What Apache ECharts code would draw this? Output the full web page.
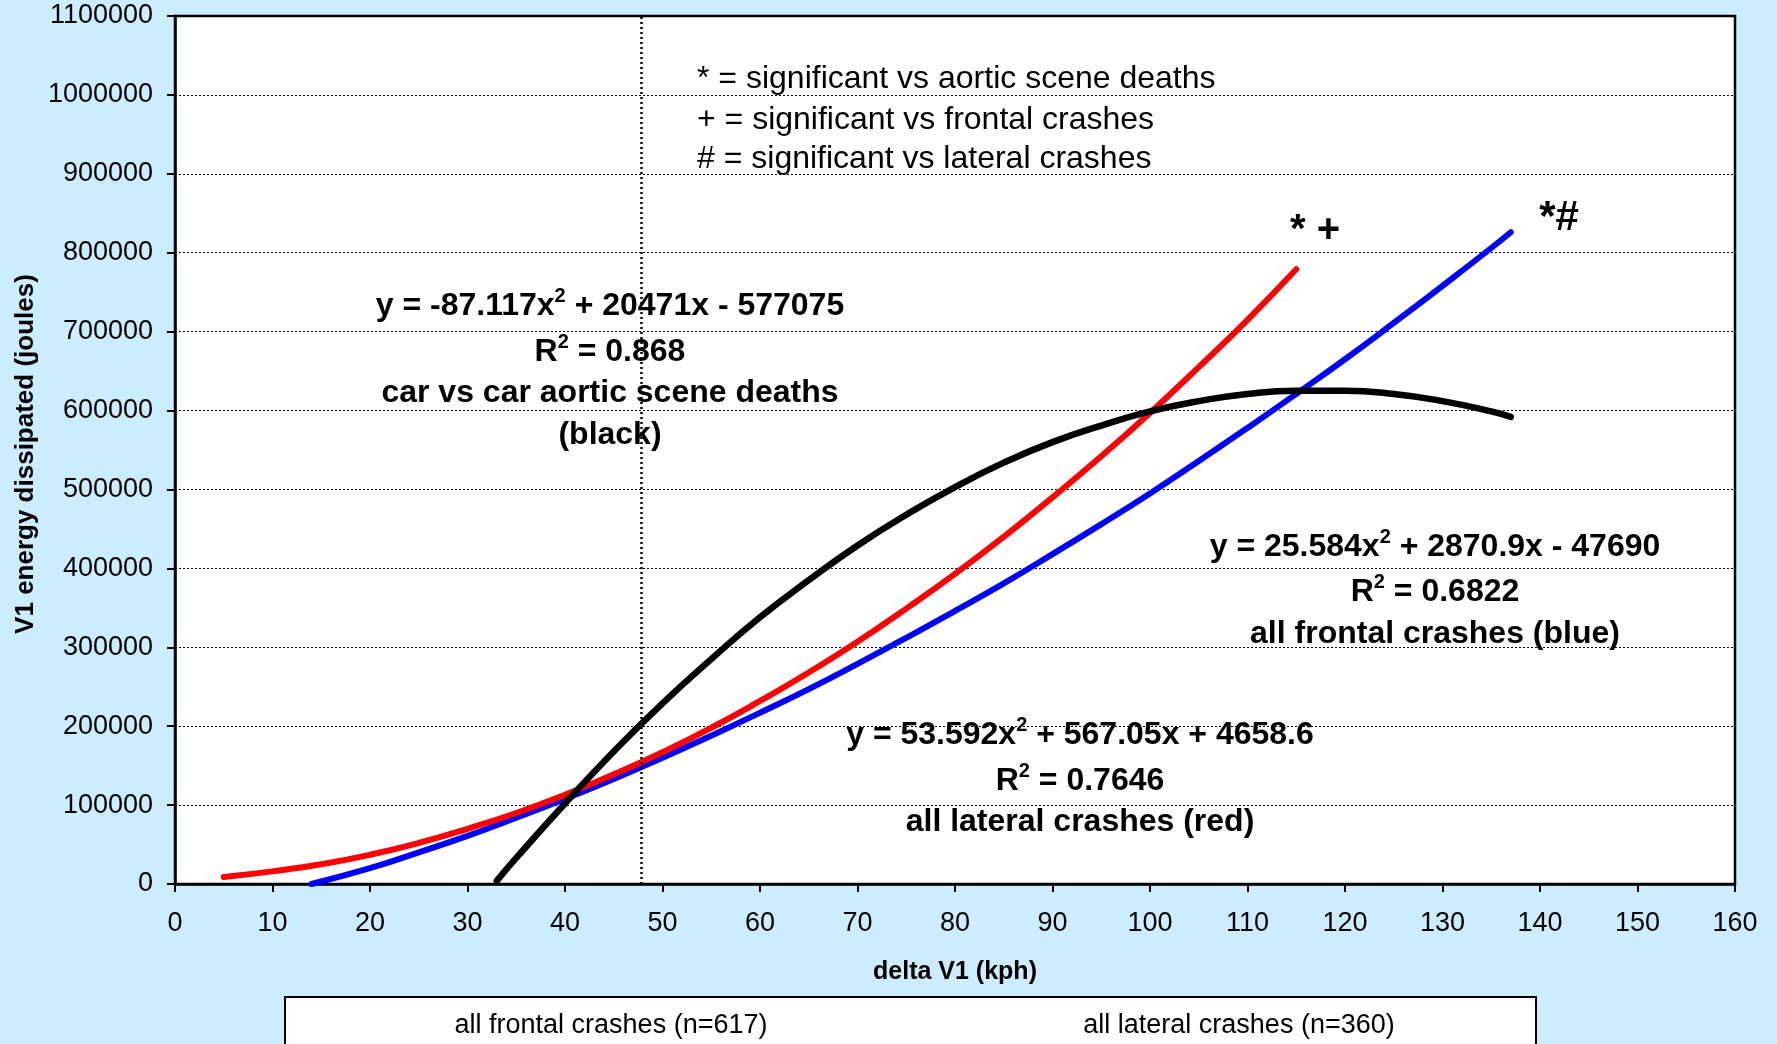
<!DOCTYPE html>
<html>
<head>
<meta charset="utf-8">
<title>V1 energy dissipated vs delta V1</title>
<script src="https://cdn.jsdelivr.net/npm/echarts@6/dist/echarts.min.js"></script>
<style>
  html, body { margin: 0; padding: 0; background: #CCECFF; }
  #chart { width: 1777px; height: 1044px; }
</style>
</head>
<body>
<div id="chart"></div>
<script>
// Fitted energy curves (kph vs joules)
const frontalX = [14, 20, 25, 30, 35, 40, 45, 50, 55, 60, 65, 70, 75, 80, 85, 90, 95, 100, 105, 110, 115, 120, 125, 130, 135, 137];
const frontalY = [0, 20000, 40000, 61000, 84000, 108000, 133000, 160000, 188000, 217000, 247000, 279000, 312000, 346000, 381000, 418000, 456000, 495000, 536000, 578000, 621000, 665000, 711000, 758000, 806000, 826000];

const lateralX = [5, 10, 15, 20, 25, 30, 35, 40, 45, 50, 55, 60, 65, 70, 75, 80, 85, 90, 95, 100, 105, 110, 115];
const lateralY = [9000, 16000, 25000, 37000, 52000, 70000, 90000, 113000, 139000, 167000, 198000, 232000, 268000, 307000, 349000, 393000, 440000, 490000, 542000, 597000, 655000, 715000, 779000];

const aorticX = [33, 35, 40, 45, 50, 55, 60, 65, 70, 75, 80, 85, 90, 95, 100, 105, 110, 115, 120, 125, 130, 135, 137];
const aorticY = [4000, 33000, 102000, 168000, 229000, 285000, 338000, 385000, 429000, 468000, 503000, 534000, 560000, 581000, 599000, 612000, 621000, 625000, 625000, 621000, 612000, 599000, 592000];

const thresholdKph = 47.8;

const seriesNames = ['all frontal crashes (n=617)', 'all lateral crashes (n=360)', 'car vs car aortic scene deaths'];

const xTicks = { min: 0, max: 160, step: 10 };
const yTicks = { min: 0, max: 1100000, step: 100000 };

const keyLines = [
  '* = significant vs aortic scene deaths',
  '+ = significant vs frontal crashes',
  '# = significant vs lateral crashes'
];

const aorticLabel = ['y = -87.117x', '2', ' + 20471x - 577075', 'R', '2', ' = 0.868', 'car vs car aortic scene deaths', '(black)'];
const frontalLabel = ['y = 25.584x', '2', ' + 2870.9x - 47690', 'R', '2', ' = 0.6822', 'all frontal crashes (blue)'];
const lateralLabel = ['y = 53.592x', '2', ' + 567.05x + 4658.6', 'R', '2', ' = 0.7646', 'all lateral crashes (red)'];

const FONT = '"Liberation Sans", Arial, Helvetica, sans-serif';

function pairs(xs, ys) { return xs.map((x, i) => [x, ys[i]]); }

const richStyles = {
  b: { fontFamily: FONT, fontSize: 32, fontWeight: 'bold', color: '#000', lineHeight: 40 },
  s: { fontFamily: FONT, fontSize: 20, fontWeight: 'bold', color: '#000', lineHeight: 20, verticalAlign: 'top' }
};

function centered(x, y, text, font) {
  return {
    type: 'text', x: x, y: y, z: 100,
    style: { text: text, fill: '#000', font: font, align: 'center', verticalAlign: 'middle', textAlign: 'center', textVerticalAlign: 'middle' }
  };
}
function richText(x, y, parts) {
  return {
    type: 'text', x: x, y: y, z: 100,
    style: {
      text: '{b|' + parts[0] + '}{s|' + parts[1] + '}{b|' + parts[2] + '}',
      rich: richStyles, align: 'center', verticalAlign: 'middle', textAlign: 'center', textVerticalAlign: 'middle'
    }
  };
}
function equationBlock(cx, ys, lbl) {
  const out = [richText(cx, ys[0], lbl.slice(0, 3)), richText(cx, ys[1], lbl.slice(3, 6))];
  for (let i = 6; i < lbl.length; i++) out.push(centered(cx, ys[i - 4], lbl[i], 'bold 32px ' + FONT));
  return out;
}

const graphics = [];
// significance key
keyLines.forEach((t, i) => {
  graphics.push({
    type: 'text', x: 697, y: [79, 120, 159][i], z: 100,
    style: { text: t, fill: '#000', font: '32px ' + FONT, align: 'left', verticalAlign: 'middle', textAlign: 'left', textVerticalAlign: 'middle' }
  });
});
// significance marks at curve ends
graphics.push(centered(1315, 231, '* +', 'bold 40px ' + FONT));
graphics.push(centered(1559, 218, '*#', 'bold 42px ' + FONT));
// regression equations
graphics.push(...equationBlock(610, [306, 352, 393, 435], aorticLabel));
graphics.push(...equationBlock(1435, [547, 592, 634], frontalLabel));
graphics.push(...equationBlock(1080, [735, 781, 822], lateralLabel));
// legend box
graphics.push({ type: 'rect', z: 90, shape: { x: 285, y: 997, width: 1251, height: 80 },
  style: { fill: '#fff', stroke: '#000', lineWidth: 2 } });
graphics.push(centered(611, 1026, seriesNames[0], '27px ' + FONT));
graphics.push(centered(1239, 1026, seriesNames[1], '27px ' + FONT));
// y-axis title
graphics.push({
  type: 'text', x: 26, y: 454, rotation: Math.PI / 2, z: 100,
  style: { text: 'V1 energy dissipated (joules)', fill: '#000', font: 'bold 26px ' + FONT, align: 'center', verticalAlign: 'middle', textAlign: 'center', textVerticalAlign: 'middle' }
});

const chart = echarts.init(document.getElementById('chart'), null, { renderer: 'canvas' });

chart.setOption({
  backgroundColor: '#CCECFF',
  animation: false,
  textStyle: { fontFamily: FONT },
  grid: {
    left: 175, right: 42, top: 16, bottom: 160,
    containLabel: false, outerBoundsMode: 'none',
    show: true, backgroundColor: '#ffffff', borderColor: '#000', borderWidth: 2.5
  },
  xAxis: {
    type: 'value', min: xTicks.min, max: xTicks.max, interval: xTicks.step,
    name: 'delta V1 (kph)', nameLocation: 'middle', nameGap: 76,
    nameTextStyle: { fontFamily: FONT, fontSize: 25, fontWeight: 'bold', color: '#000' },
    axisLine: { lineStyle: { color: '#000', width: 2.5 } },
    axisTick: { inside: false, length: 8, lineStyle: { color: '#000', width: 2 } },
    axisLabel: { margin: 26, fontFamily: FONT, fontSize: 27, color: '#000' },
    splitLine: { show: false }
  },
  yAxis: {
    type: 'value', min: yTicks.min, max: yTicks.max, interval: yTicks.step,
    axisLine: { show: true, lineStyle: { color: '#000', width: 2.5 } },
    axisTick: { show: true, inside: false, length: 8, lineStyle: { color: '#000', width: 2 } },
    axisLabel: { margin: 22, fontFamily: FONT, fontSize: 27, color: '#000', formatter: v => String(v) },
    splitLine: { show: true, lineStyle: { color: '#000', width: 1, type: [2, 2] } }
  },
  series: [
    {
      name: seriesNames[0], type: 'line', data: pairs(frontalX, frontalY), smooth: true,
      showSymbol: false, symbol: 'none', z: 3,
      lineStyle: { color: '#0000FF', width: 6, cap: 'round', join: 'round' },
      markLine: {
        silent: true, symbol: ['none', 'none'], label: { show: false },
        lineStyle: { color: '#000', width: 2.5, type: [2, 3] },
        data: [[{ coord: [thresholdKph, yTicks.min] }, { coord: [thresholdKph, yTicks.max] }]]
      }
    },
    {
      name: seriesNames[1], type: 'line', data: pairs(lateralX, lateralY), smooth: true,
      showSymbol: false, symbol: 'none', z: 4,
      lineStyle: { color: '#FF0000', width: 6, cap: 'round', join: 'round' }
    },
    {
      name: seriesNames[2], type: 'line', data: pairs(aorticX, aorticY), smooth: true,
      showSymbol: false, symbol: 'none', z: 5,
      lineStyle: { color: '#000000', width: 6.5, cap: 'round', join: 'round' }
    }
  ],
  graphic: graphics
});
</script>
</body>
</html>
